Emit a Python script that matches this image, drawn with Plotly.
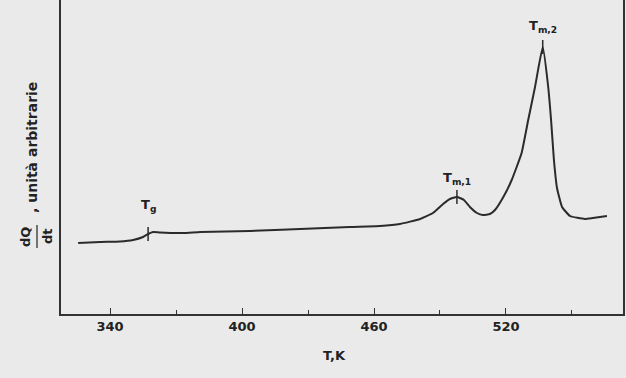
import numpy as np
import plotly.graph_objects as go

# Temperature (K) and heat-flow signal (arbitrary units)
T_K = [325.5, 335.5, 344.5, 350.5, 355.0, 357.3, 359.5, 362.7, 373.2, 381.0,
       403.6, 426.4, 449.0, 462.7, 471.8, 480.9, 486.8, 491.4, 494.5, 497.7,
       500.9, 503.6, 506.8, 509.5, 512.7, 515.0, 518.8, 522.6, 527.1, 530.1,
       533.2, 536.7, 539.1, 540.5, 541.8, 543.2, 545.5, 549.1, 555.9, 559.5,
       565.9]
dQdt = [71, 72, 72.5, 74, 77, 80, 82, 81.5, 81, 82,
        83, 85, 87, 88, 90, 95, 101, 110, 115, 117,
        114, 107, 101, 99, 100, 104, 117, 134, 161, 194,
        227, 267, 229, 194, 154, 126, 107, 98, 95, 96,
        98]

# Transition markers
trans_T = [357.3, 497.7, 536.7]
trans_labels = ["T<sub>g</sub>", "T<sub>m,1</sub>", "T<sub>m,2</sub>"]
label_dy = [29, 19, 21]

x_range = [317.7, 573.2]
y_range = [0, 314]

ink = "#222222"
font = dict(family="DejaVu Sans", size=12, color=ink, weight="bold")
font13 = dict(family="DejaVu Sans", size=13, color=ink, weight="bold")
font14 = dict(family="DejaVu Sans", size=14, color=ink, weight="bold")

fig = go.Figure()
fig.add_trace(go.Scatter(x=T_K, y=dQdt, mode="lines",
                         line=dict(color="#2b2b2b", width=2, shape="spline", smoothing=0.4),
                         hoverinfo="skip"))
trans_y = list(np.interp(trans_T, T_K, dQdt))
fig.add_trace(go.Scatter(x=trans_T, y=trans_y, mode="markers",
                         marker=dict(symbol="line-ns-open", size=10, color="#2b2b2b",
                                     line=dict(color="#2b2b2b", width=1.5)),
                         hoverinfo="skip"))
for t, yv, lab, dy in zip(trans_T, trans_y, trans_labels, label_dy):
    fig.add_annotation(x=t, y=yv + dy, text=lab, showarrow=False, font=font13)

# axis titles
fig.add_annotation(xref="paper", yref="paper", x=0.487, y=0, yshift=-41, text="T,K", showarrow=False,
                   font=font13, xanchor="center", yanchor="middle")
fig.add_annotation(xref="paper", yref="paper", x=0, xshift=-29, y=(314-148)/314, text=", unità arbitrarie",
                   textangle=-90, showarrow=False, font=font14, xanchor="center", yanchor="middle")
fig.add_annotation(xref="paper", yref="paper", x=0, xshift=-35, y=(314-237)/314, text="dQ",
                   textangle=-90, showarrow=False, font=font13, xanchor="center", yanchor="middle")
fig.add_annotation(xref="paper", yref="paper", x=0, xshift=-14, y=(314-236)/314, text="dt",
                   textangle=-90, showarrow=False, font=font13, xanchor="center", yanchor="middle")
fig.add_shape(type="line", xref="paper", yref="paper", x0=-24/562, x1=-24/562,
              y0=(314-248)/314, y1=(314-225)/314, line=dict(color=ink, width=1.2))

fig.update_layout(
    width=626, height=378,
    margin=dict(l=61, r=3, t=0, b=64),
    paper_bgcolor="#eaeaea", plot_bgcolor="#eaeaea",
    showlegend=False,
    font=font,
    xaxis=dict(range=x_range, showgrid=False, zeroline=False, showline=True, linecolor="#333", linewidth=1.5,
               automargin=False,
               tickmode="linear", tick0=340, dtick=60, ticks="inside", ticklen=6, tickcolor="#333", tickwidth=1.2,
               minor=dict(dtick=30, tick0=340, ticks="inside", ticklen=4, tickcolor="#333", tickwidth=1.2),
               tickfont=font13),
    yaxis=dict(range=y_range, showgrid=False, zeroline=False, showline=True, linecolor="#333", linewidth=1.5,
               automargin=False, mirror=True, showticklabels=False, ticks=""),
)
fig.write_html("out.html", config={"displayModeBar": False},
               post_script="document.body.style.margin='0';document.body.style.background='#eaeaea';")
